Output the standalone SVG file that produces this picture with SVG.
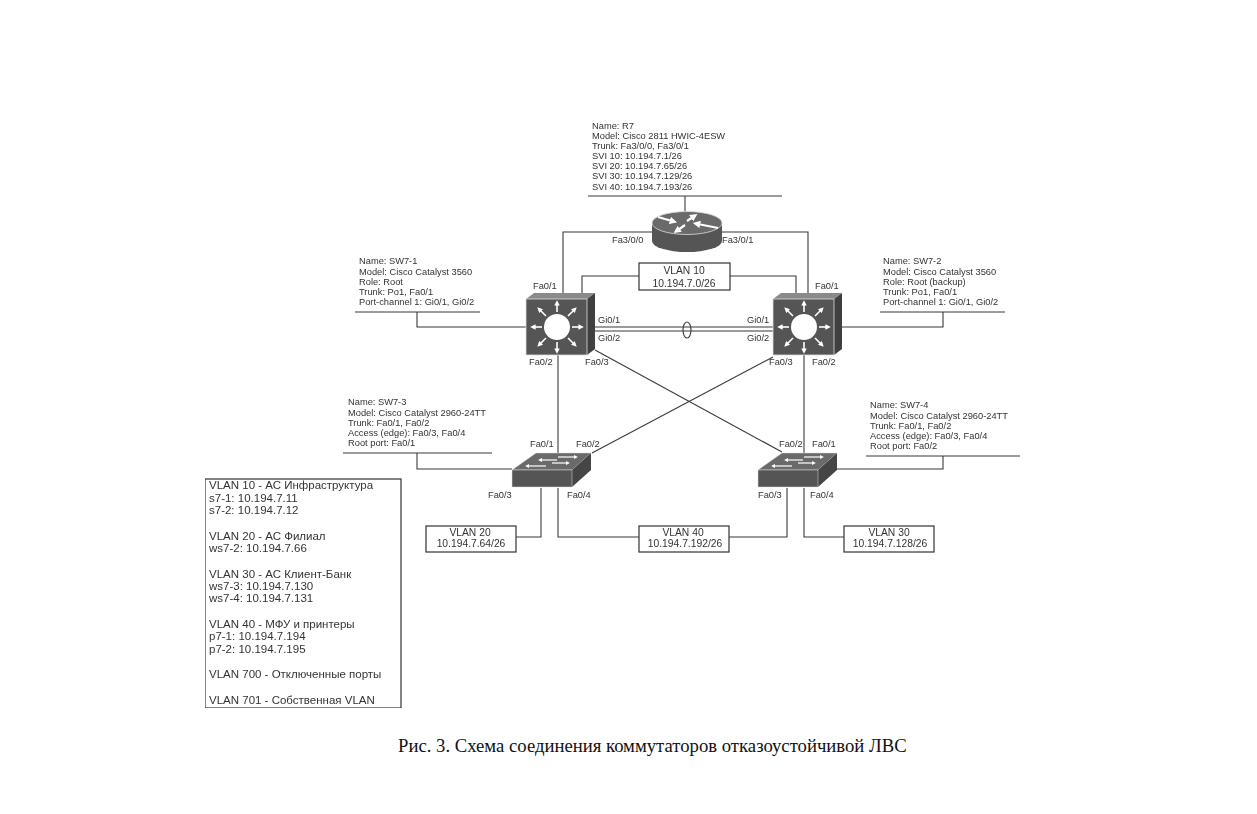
<svg xmlns="http://www.w3.org/2000/svg" width="1257" height="814" viewBox="0 0 1257 814">
<style>
text{font-family:"Liberation Sans",Arial,sans-serif;font-size:9.3px;fill:#333}
.c line,.c path,.c ellipse{fill:none;stroke:#3a3a3a;stroke-width:1.1}
.box{fill:#fff;stroke:#333;stroke-width:1.2}
.v{font-size:10.3px;text-anchor:middle}
.l{font-size:11.5px}
.w line{fill:none;stroke:#fff;stroke-width:1.6;marker-end:url(#ah)}
.w2 line{stroke-width:1.2}
.w3 line{stroke-width:2.2}
</style>
<defs>
<filter id="soft" x="0" y="0" width="100%" height="100%"><feGaussianBlur stdDeviation="0.35"/></filter>
<marker id="ah" markerWidth="3.4" markerHeight="3.4" refX="1" refY="1.7" orient="auto"><path d="M0 0L3.4 1.7L0 3.4Z" fill="#fff"/></marker>
<g id="l3">
<path d="M0 6L8 0H69L61 6Z" fill="#8a8a8a"/>
<path d="M61 6L69 0V56L61 62Z" fill="#3f3f3f"/>
<rect x="0" y="6" width="61" height="56" fill="#555" stroke="#ddd" stroke-width="0.8"/>
<circle cx="31" cy="34" r="13" fill="#fff"/>
<g class="w">
<line x1="31" y1="19" x2="31" y2="11"/>
<line x1="31" y1="49" x2="31" y2="57"/>
<line x1="16" y1="34" x2="8" y2="34"/>
<line x1="46" y1="34" x2="54" y2="34"/>
<line x1="20" y1="23" x2="14" y2="17"/>
<line x1="42" y1="23" x2="48" y2="17"/>
<line x1="20" y1="45" x2="14" y2="51"/>
<line x1="42" y1="45" x2="48" y2="51"/>
</g>
</g>
<g id="l2">
<path d="M0 17L24 0H79L60 17Z" fill="#6a6a6a" stroke="#ddd" stroke-width="0.5"/>
<path d="M60 17L79 0V17L60 34Z" fill="#444"/>
<rect x="0" y="17" width="60" height="17" fill="#555" stroke="#ddd" stroke-width="0.5"/>
<g class="w w2">
<line x1="46" y1="4" x2="63" y2="4"/>
<line x1="45" y1="7" x2="29" y2="7"/>
<line x1="40" y1="10" x2="55" y2="10"/>
<line x1="34" y1="13" x2="16" y2="13"/>
</g>
</g>
</defs>
<rect width="1257" height="814" fill="#fff"/>

<g id="diagram" filter="url(#soft)">
<g id="connectors" class="c">
<path d="M588 196H782M685 196V212"/>
<path d="M653 232H563V293M720 232H808V293"/>
<path d="M639 276H582V293M730 276H796V293"/>
<line x1="595" y1="327" x2="773" y2="327"/>
<line x1="595" y1="331" x2="773" y2="331"/>
<ellipse cx="687" cy="330" rx="4" ry="8"/>
<path d="M355 312H480M417 312V327H526"/>
<path d="M880 312H1005M943 312V327H842"/>
<line x1="558" y1="355" x2="558" y2="453"/>
<line x1="804" y1="355" x2="804" y2="453"/>
<line x1="595" y1="350" x2="782" y2="452"/>
<line x1="773" y1="357" x2="592" y2="453"/>
<path d="M343 453H492M417 453V469H512"/>
<path d="M866 456H1020M943 456V469H835"/>
<path d="M541 488V537H516"/>
<path d="M558 488V537H639M729 537H787V488"/>
<path d="M804 488V537H844"/>
</g>

<g id="R7">
<path d="M652 223V241A35 11 0 0 0 722 241V223Z" fill="#555"/>
<ellipse cx="687" cy="223" rx="35" ry="11.500" fill="#6a6a6a" stroke="#ddd" stroke-width="0.8"/>
<g class="w w3">
<line x1="658" y1="217" x2="672" y2="221"/>
<line x1="687" y1="221" x2="693" y2="217"/>
<line x1="718" y1="228" x2="698" y2="224"/>
<line x1="685" y1="225" x2="678" y2="230"/>
</g>
<text x="592" y="128.500">Name: R7</text>
<text x="592" y="139">Model: Cisco 2811 HWIC-4ESW</text>
<text x="592" y="149">Trunk: Fa3/0/0, Fa3/0/1</text>
<text x="592" y="159">SVI 10: 10.194.7.1/26</text>
<text x="592" y="169">SVI 20: 10.194.7.65/26</text>
<text x="592" y="179">SVI 30: 10.194.7.129/26</text>
<text x="592" y="190">SVI 40: 10.194.7.193/26</text>
<text x="612" y="243">Fa3/0/0</text>
<text x="722" y="243">Fa3/0/1</text>
</g>

<g id="SW7-1">
<use href="#l3" x="526" y="293"/>
<text x="359" y="264">Name: SW7-1</text>
<text x="359" y="274.500">Model: Cisco Catalyst 3560</text>
<text x="359" y="285">Role: Root</text>
<text x="359" y="295">Trunk: Po1, Fa0/1</text>
<text x="359" y="305">Port-channel 1: Gi0/1, Gi0/2</text>
<text x="533" y="289">Fa0/1</text>
<text x="598" y="323">Gi0/1</text>
<text x="598" y="341">Gi0/2</text>
<text x="529" y="365">Fa0/2</text>
<text x="585" y="365">Fa0/3</text>
</g>

<g id="SW7-2">
<use href="#l3" x="773" y="293"/>
<text x="883" y="264">Name: SW7-2</text>
<text x="883" y="274.500">Model: Cisco Catalyst 3560</text>
<text x="883" y="285">Role: Root (backup)</text>
<text x="883" y="295">Trunk: Po1, Fa0/1</text>
<text x="883" y="305">Port-channel 1: Gi0/1, Gi0/2</text>
<text x="815" y="289">Fa0/1</text>
<text x="747" y="323">Gi0/1</text>
<text x="747" y="341">Gi0/2</text>
<text x="769" y="365">Fa0/3</text>
<text x="812" y="365">Fa0/2</text>
</g>

<g id="SW7-3">
<use href="#l2" x="512" y="453"/>
<text x="348" y="405">Name: SW7-3</text>
<text x="348" y="415.500">Model: Cisco Catalyst 2960-24TT</text>
<text x="348" y="425.500">Trunk: Fa0/1, Fa0/2</text>
<text x="348" y="436">Access (edge): Fa0/3, Fa0/4</text>
<text x="348" y="446">Root port: Fa0/1</text>
<text x="530" y="447">Fa0/1</text>
<text x="576" y="447">Fa0/2</text>
<text x="488" y="498">Fa0/3</text>
<text x="567" y="498">Fa0/4</text>
</g>

<g id="SW7-4">
<use href="#l2" x="758" y="453"/>
<text x="870" y="408">Name: SW7-4</text>
<text x="870" y="418.500">Model: Cisco Catalyst 2960-24TT</text>
<text x="870" y="428.500">Trunk: Fa0/1, Fa0/2</text>
<text x="870" y="439">Access (edge): Fa0/3, Fa0/4</text>
<text x="870" y="449">Root port: Fa0/2</text>
<text x="779" y="447">Fa0/2</text>
<text x="812" y="447">Fa0/1</text>
<text x="758" y="498">Fa0/3</text>
<text x="810" y="498">Fa0/4</text>
</g>

<g id="vlan10"><rect class="box" x="639" y="263" width="91" height="27"/><text class="v" x="684" y="274">VLAN 10</text><text class="v" x="684" y="287">10.194.7.0/26</text></g>
<g id="vlan20"><rect class="box" x="426" y="526" width="90" height="26"/><text class="v" x="470" y="536">VLAN 20</text><text class="v" x="471" y="547">10.194.7.64/26</text></g>
<g id="vlan40"><rect class="box" x="639" y="526" width="90" height="26"/><text class="v" x="683" y="536">VLAN 40</text><text class="v" x="685" y="547">10.194.7.192/26</text></g>
<g id="vlan30"><rect class="box" x="844" y="526" width="90" height="26"/><text class="v" x="889" y="536">VLAN 30</text><text class="v" x="890" y="547">10.194.7.128/26</text></g>

<g id="legend">
<rect class="box" x="205" y="479" width="196" height="229"/>
<text class="l" x="209" y="489">VLAN 10 - АС Инфраструктура</text>
<text class="l" x="209" y="502">s7-1: 10.194.7.11</text>
<text class="l" x="209" y="514">s7-2: 10.194.7.12</text>
<text class="l" x="209" y="540">VLAN 20 - АС Филиал</text>
<text class="l" x="209" y="552">ws7-2: 10.194.7.66</text>
<text class="l" x="209" y="578">VLAN 30 - АС Клиент-Банк</text>
<text class="l" x="209" y="590">ws7-3: 10.194.7.130</text>
<text class="l" x="209" y="602">ws7-4: 10.194.7.131</text>
<text class="l" x="209" y="628">VLAN 40 - МФУ и принтеры</text>
<text class="l" x="209" y="640">p7-1: 10.194.7.194</text>
<text class="l" x="209" y="653">p7-2: 10.194.7.195</text>
<text class="l" x="209" y="678">VLAN 700 - Отключенные порты</text>
<text class="l" x="209" y="704">VLAN 701 - Собственная VLAN</text>
</g>
</g>

<text id="caption" x="398" y="752" style="font-family:'Liberation Serif','Times New Roman',serif;font-size:18.7px;fill:#111">Рис. 3. Схема соединения коммутаторов отказоустойчивой ЛВС</text>
</svg>
